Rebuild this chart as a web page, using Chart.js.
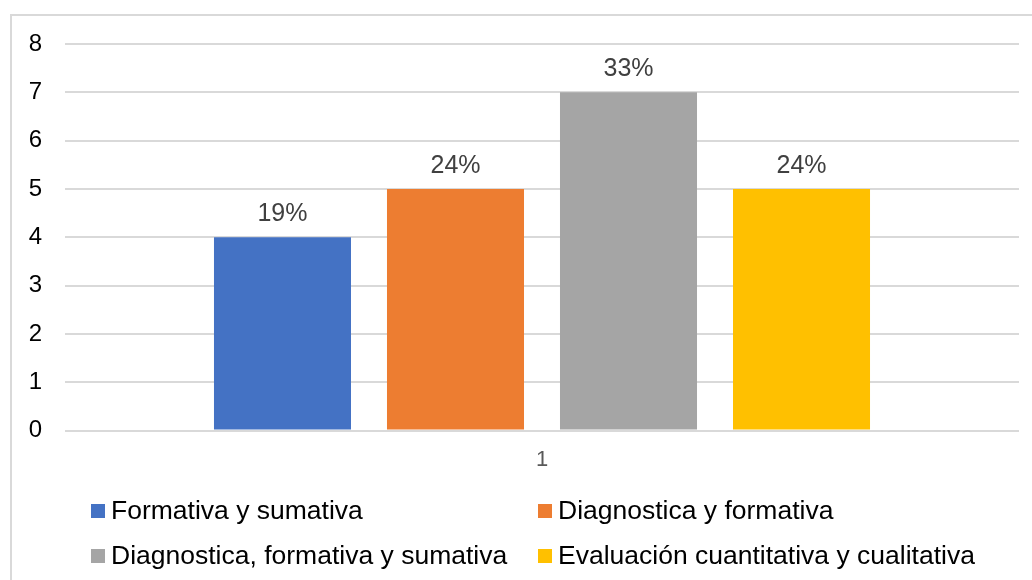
<!DOCTYPE html>
<html>
<head>
<meta charset="utf-8">
<script src="https://cdn.jsdelivr.net/npm/chart.js@4.4.1/dist/chart.umd.min.js"></script>
<style>
    body { margin: 0; background: #fff; }
    #wrap { position: relative; width: 1032px; height: 580px; overflow: hidden; font-family: "Liberation Sans", Arial, sans-serif; }
    #frame { position: absolute; left: 10px; top: 14px; right: -4px; bottom: -4px; border: 2px solid #d9d9d9; }
    #chart { position: absolute; left: 0; top: 0; }
    #legend { position: absolute; left: 91px; top: 488px; display: grid; grid-template-columns: 447px auto; grid-auto-rows: 45px; }
    #legend .item { display: flex; align-items: center; font-size: 26.5px; color: #000; white-space: nowrap; }
    #legend .box { width: 14px; height: 14px; margin-right: 6px; flex: none; }
</style>
</head>
<body>
<div id="wrap">
    <div id="frame"></div>
    <canvas id="chart" width="1032" height="580"></canvas>
    <div id="legend"></div>
</div>
<script>
// data
const categories = ['1'];
const seriesNames = ['Formativa y sumativa', 'Diagnostica y formativa', 'Diagnostica, formativa y sumativa', 'Evaluación cuantitativa y cualitativa'];
const seriesValues = [4, 5, 7, 5];
const pctLabels = ['19%', '24%', '33%', '24%'];
const seriesColors = ['#4472C4', '#ED7D31', '#A5A5A5', '#FFC000'];
const yTicks = [0, 1, 2, 3, 4, 5, 6, 7, 8];

const FONT = '"Liberation Sans", Arial, sans-serif';

// percentage above each bar
const barLabels = {
    id: 'barLabels',
    afterDatasetsDraw(chart) {
        const ctx = chart.ctx;
        ctx.save();
        ctx.font = '25px ' + FONT;
        ctx.fillStyle = '#404040';
        ctx.textAlign = 'center';
        ctx.textBaseline = 'alphabetic';
        chart.data.datasets.forEach((ds, i) => {
            chart.getDatasetMeta(i).data.forEach(bar => {
                ctx.fillText(pctLabels[i], bar.x, bar.y - 16);
            });
        });
        ctx.restore();
    }
};

const ctx = document.getElementById('chart').getContext('2d');

const chart = new Chart(ctx, {
    type: 'bar',
    data: {
        labels: categories,
        datasets: seriesNames.map((name, i) => ({
            label: name,
            data: [seriesValues[i]],
            backgroundColor: seriesColors[i],
            borderWidth: 0,
            categoryPercentage: 0.7254,
            barPercentage: 0.792
        }))
    },
    options: {
        responsive: false,
        animation: false,
        devicePixelRatio: 1,
        layout: { padding: { left: 10, top: 44, right: 13, bottom: 99 } },
        scales: {
            x: {
                grid: { display: false },
                border: { display: false },
                ticks: { color: '#595959', font: { family: FONT, size: 22 }, padding: 8 }
            },
            y: {
                min: 0,
                max: 8,
                afterBuildTicks: scale => { scale.ticks = yTicks.map(v => ({ value: v })); },
                afterFit: scale => { scale.width = 55; },
                grid: { color: '#d9d9d9', lineWidth: 2, drawTicks: false },
                border: { display: false },
                ticks: { color: '#000', font: { family: FONT, size: 24 }, padding: 23 }
            }
        },
        plugins: {
            legend: { display: false },
            tooltip: { enabled: false }
        }
    },
    plugins: [barLabels]
});

// legend in two columns, like the original
const legend = document.getElementById('legend');
chart.data.datasets.forEach(ds => {
    const item = document.createElement('div');
    item.className = 'item';
    item.innerHTML = `<span class="box" style="background:${ds.backgroundColor}"></span><span>${ds.label}</span>`;
    legend.appendChild(item);
});
</script>
</body>
</html>
